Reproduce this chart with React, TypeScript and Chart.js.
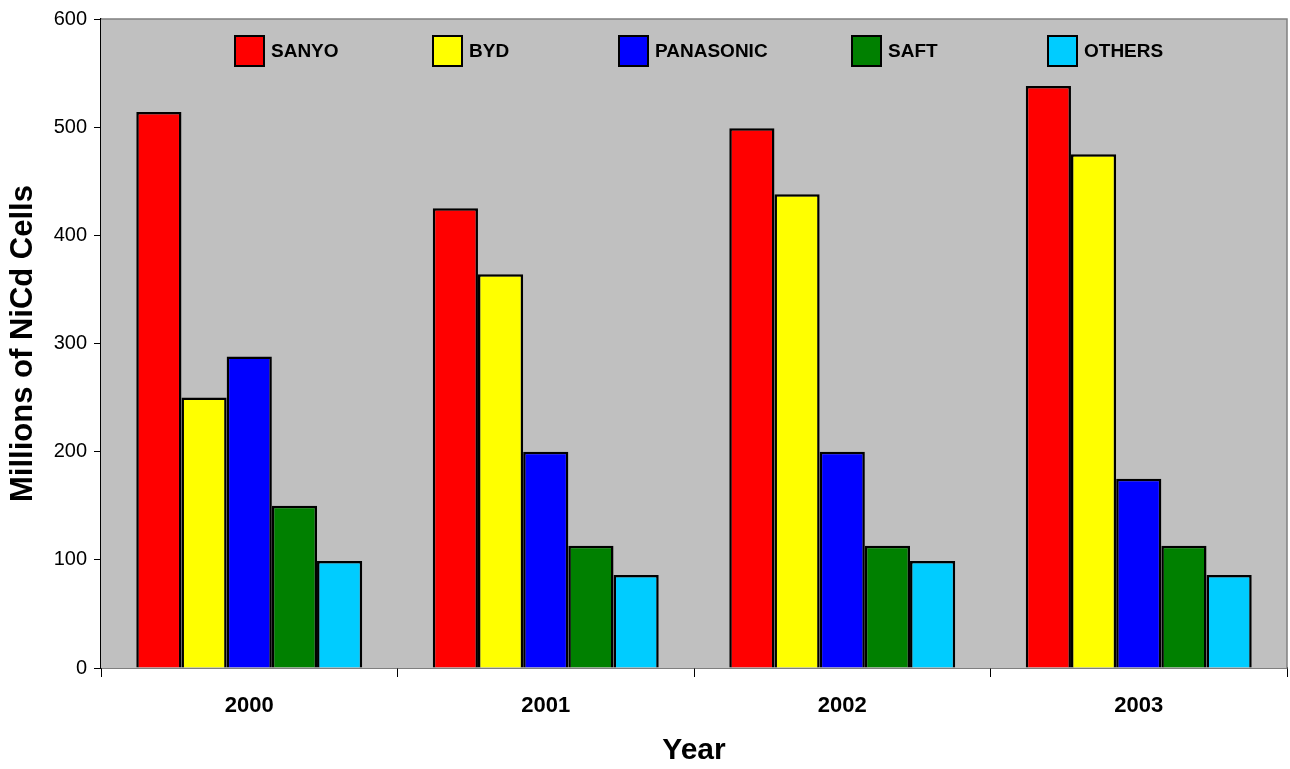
import React, { useEffect, useRef } from "react";
import { Chart, registerables } from "chart.js";

Chart.register(...registerables);

const categories = ["2000", "2001", "2002", "2003"];
const seriesNames = ["SANYO", "BYD", "PANASONIC", "SAFT", "OTHERS"];
const sanyo = [514, 425, 499, 538];
const byd = [250, 364, 438, 475];
const panasonic = [288, 200, 200, 175];
const saft = [150, 113, 113, 113];
const others = [99, 86, 99, 86];
const colors = ["#FF0000", "#FFFF00", "#0000FF", "#008000", "#00CCFF"];
const yTicks = [0, 100, 200, 300, 400, 500, 600];
const legendOffsets = [134, 332, 518, 751, 947];

const FONT = "'Liberation Sans', Arial, sans-serif";

export default function App() {
  const ref = useRef<HTMLCanvasElement | null>(null);
  useEffect(() => {
    const canvas = ref.current;
    if (!canvas) return;
    const values = [sanyo, byd, panasonic, saft, others];
    const bgPlugin = {
      id: "bgPlugin",
      beforeDatasetsDraw(chart: any) {
        const { ctx, chartArea } = chart;
        ctx.save();
        ctx.fillStyle = "#C0C0C0";
        ctx.fillRect(chartArea.left, chartArea.top, chartArea.right - chartArea.left, chartArea.bottom - chartArea.top);
        ctx.strokeStyle = "#808080";
        ctx.lineWidth = 1.5;
        ctx.beginPath();
        ctx.moveTo(chartArea.left, chartArea.top);
        ctx.lineTo(chartArea.right, chartArea.top);
        ctx.lineTo(chartArea.right, chartArea.bottom);
        ctx.stroke();
        ctx.restore();
      },
      afterDraw(chart: any) {
        const { ctx, chartArea } = chart;
        ctx.save();
        ctx.font = `bold 19px ${FONT}`;
        ctx.textBaseline = "middle";
        ctx.textAlign = "left";
        seriesNames.forEach((name, i) => {
          const x = chartArea.left + legendOffsets[i];
          const y = chartArea.top + 17;
          ctx.fillStyle = colors[i];
          ctx.fillRect(x, y, 29, 30);
          ctx.strokeStyle = "#000";
          ctx.lineWidth = 2;
          ctx.strokeRect(x, y, 29, 30);
          ctx.fillStyle = "#000";
          ctx.fillText(name, x + 36, y + 16);
        });
        ctx.restore();
      },
    };
    const chart = new Chart(canvas, {
      type: "bar",
      data: {
        labels: categories,
        datasets: seriesNames.map((name, i) => ({
          label: name,
          data: values[i],
          backgroundColor: colors[i],
          borderColor: "#000000",
          borderWidth: 2.5,
          categoryPercentage: 0.762,
          barPercentage: 1.0,
        })),
      },
      options: {
        responsive: false,
        animation: false,
        layout: { padding: { top: 19, right: 3, left: 0, bottom: 0 } },
        plugins: {
          legend: { display: false },
          tooltip: { enabled: false },
        },
        scales: {
          x: {
            grid: {
              offset: true,
              drawOnChartArea: false,
              drawTicks: true,
              tickLength: 9,
              color: "#000",
              lineWidth: 1,
            },
            border: { display: true, color: "#000", width: 1.5 },
            ticks: {
              color: "#000",
              font: { family: FONT, size: 22, weight: "bold" },
              padding: 16,
            },
            title: {
              display: true,
              text: "Year",
              color: "#000",
              font: { family: FONT, size: 30, weight: "bold" },
              padding: { top: 4, bottom: 0 },
            },
            afterFit(scale: any) {
              scale.height = 101;
            },
          },
          y: {
            min: 0,
            max: 600,
            afterBuildTicks(scale: any) {
              scale.ticks = yTicks.map((v) => ({ value: v }));
            },
            grid: {
              drawOnChartArea: false,
              drawTicks: true,
              tickLength: 7,
              color: "#000",
            },
            border: { display: true, color: "#000", width: 1.5 },
            ticks: {
              color: "#000",
              font: { family: FONT, size: 20 },
              padding: 7,
            },
            title: {
              display: true,
              text: "Millions of NiCd Cells",
              color: "#000",
              font: { family: FONT, size: 31, weight: "bold" },
              padding: { top: 5, bottom: 12 },
            },
            afterFit(scale: any) {
              scale.width = 101;
            },
          },
        },
      },
      plugins: [bgPlugin],
    });
    return () => chart.destroy();
  }, []);
  return (
    <div style={{ position: "absolute", left: 0, top: 0, width: 1290, height: 769, background: "#fff" }}>
      <canvas ref={ref} width={1290} height={769} style={{ display: "block" }} />
    </div>
  );
}
